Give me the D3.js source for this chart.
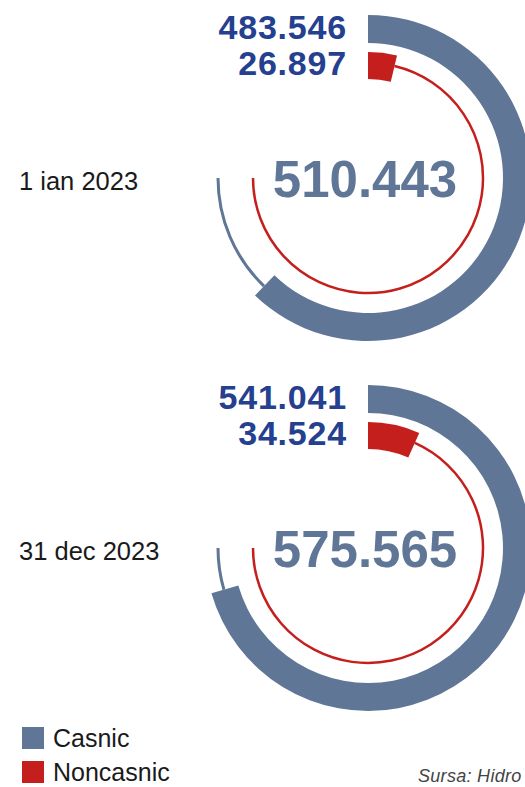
<!DOCTYPE html>
<html>
<head>
<meta charset="utf-8">
<script src="https://cdn.jsdelivr.net/npm/d3@7"></script>
<style>
  html, body { margin: 0; padding: 0; background: #ffffff; overflow: hidden; }
  svg { display: block; }
</style>
</head>
<body>
<svg id="chart" width="525" height="787"></svg>
<script>
// ---- data ----
const dates = ["1 ian 2023", "31 dec 2023"];
const casnic = [483546, 541041];
const noncasnic = [26897, 34524];
const seriesNames = ["Casnic", "Noncasnic"];
const sourceText = "Sursa: Hidro";

// ---- style ----
const colCasnic = "#5f7697";
const colNon = "#c41f1d";
const colValue = "#24408f";

const svg = d3.select("#chart");
const ro = d3.formatLocale({decimal: ",", thousands: ".", grouping: [3], currency: ["", ""]});
const fmt = ro.format(",d");

// angle scales (full track = 3/4 of a circle)
const angOuter = d3.scaleLinear().domain([54000, 572000]).range([0, 1.5 * Math.PI]);
const angInner = d3.scaleLinear().domain([17400, 210000]).range([0, 1.5 * Math.PI]);
const cyScale = d3.scalePoint().domain(dates).range([178, 548]);
const cx = 368;

const outerBand = {inner: 135, outer: 163, track: 150};
const innerBand = {inner: 99, outer: 126, track: 115};

const arcBand = d3.arc();
const trackArc = r => d3.arc().innerRadius(r).outerRadius(r);
const FONT = "'Liberation Sans', Arial, sans-serif";

dates.forEach((d, i) => {
  const cy = cyScale(d);
  const g = svg.append("g").attr("transform", `translate(${cx},${cy})`);
  const total = casnic[i] + noncasnic[i];

  // outer track + bar
  g.append("path")
    .attr("d", trackArc(outerBand.track)({startAngle: angOuter(casnic[i]), endAngle: 1.5 * Math.PI}))
    .attr("fill", "none").attr("stroke", colCasnic).attr("stroke-width", 3);
  g.append("path")
    .attr("d", arcBand({innerRadius: outerBand.inner, outerRadius: outerBand.outer,
                        startAngle: 0, endAngle: angOuter(casnic[i])}))
    .attr("fill", colCasnic);

  // inner track + bar
  g.append("path")
    .attr("d", trackArc(innerBand.track)({startAngle: angInner(noncasnic[i]), endAngle: 1.5 * Math.PI}))
    .attr("fill", "none").attr("stroke", colNon).attr("stroke-width", 2.5);
  g.append("path")
    .attr("d", arcBand({innerRadius: innerBand.inner, outerRadius: innerBand.outer,
                        startAngle: 0, endAngle: angInner(noncasnic[i])}))
    .attr("fill", colNon);

  // value labels
  g.append("text").attr("x", -21).attr("y", -139)
    .attr("text-anchor", "end")
    .style("font-family", FONT)
    .style("font-weight", "bold").style("font-size", "34px").style("letter-spacing", "0.8px")
    .attr("fill", colValue).text(fmt(casnic[i]));
  g.append("text").attr("x", -21).attr("y", -103)
    .attr("text-anchor", "end")
    .style("font-family", FONT)
    .style("font-weight", "bold").style("font-size", "34px").style("letter-spacing", "0.8px")
    .attr("fill", colValue).text(fmt(noncasnic[i]));

  // total
  g.append("text").attr("x", -3).attr("y", 19)
    .attr("text-anchor", "middle")
    .style("font-family", FONT)
    .style("font-weight", "bold").style("font-size", "51px")
    .attr("fill", colCasnic).text(fmt(total));

  // date label
  svg.append("text").attr("x", 19).attr("y", cy + 12)
    .style("font-family", FONT)
    .style("font-size", "25.5px")
    .attr("fill", "#1a1a1a").text(d);
});

// legend
const legCol = d3.scaleOrdinal().domain(seriesNames).range([colCasnic, colNon]);
const legY = d3.scalePoint().domain(seriesNames).range([727, 761]);
seriesNames.forEach(s => {
  svg.append("rect").attr("x", 22).attr("y", legY(s)).attr("width", 22).attr("height", 22)
    .attr("fill", legCol(s));
  svg.append("text").attr("x", 53).attr("y", legY(s) + 20)
    .style("font-family", FONT)
    .style("font-size", "25px").attr("fill", "#1a1a1a").text(s);
});

// source
svg.append("text").attr("x", 418).attr("y", 782)
  .style("font-family", FONT)
  .style("font-size", "18px").style("font-style", "italic").style("letter-spacing", "0.3px")
  .attr("fill", "#444").text(sourceText);
</script>
</body>
</html>
